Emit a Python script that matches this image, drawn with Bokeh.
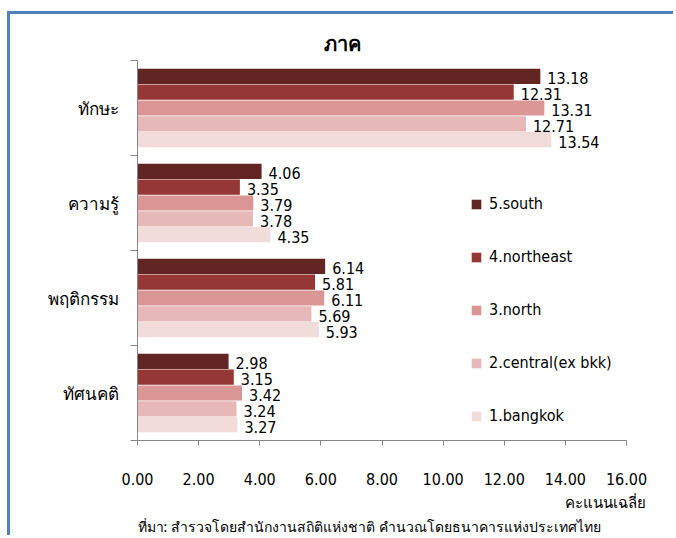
from bokeh.plotting import figure
from bokeh.models import (ColumnDataSource, Range1d, LinearAxis, FixedTicker,
                          NumeralTickFormatter, Legend, LegendItem, Title)
from bokeh.transform import dodge
from bokeh.core.properties import value
from bokeh.embed import file_html
from bokeh.resources import INLINE

# Topics, listed top to bottom as shown
topics = ["ทักษะ", "ความรู้", "พฤติกรรม", "ทัศนคติ"]
# Regions, listed in legend order
regions = ["5.south", "4.northeast", "3.north", "2.central(ex bkk)", "1.bangkok"]
south = [13.18, 4.06, 6.14, 2.98]
northeast = [12.31, 3.35, 5.81, 3.15]
north = [13.31, 3.79, 6.11, 3.42]
central = [12.71, 3.78, 5.69, 3.24]
bangkok = [13.54, 4.35, 5.93, 3.27]
x_ticks = [0, 2, 4, 6, 8, 10, 12, 14, 16]

title_text = "ภาค"
x_title = "คะแนนเฉลี่ย"
source_note = "ที่มา: สำรวจโดยสำนักงานสถิติแห่งชาติ คำนวณโดยธนาคารแห่งประเทศไทย"

colors = ["#632523", "#953735", "#d99694", "#e6b9b8", "#f2dcdb"]
NUM_FONT = "DejaVu Sans Condensed"
THAI_FONT = "Noto Sans"
AXIS_GREY = "#868686"
FRAME_BLUE = "#4f81bd"

n = len(topics)
# slot centre of each topic on the vertical scale, first topic at the top
slots = [n - k - 0.5 for k in range(n)]

series = [south, northeast, north, central, bangkok]
data = {"slot": slots}
for i, vals in enumerate(series):
    data[f"v{i}"] = vals
    data[f"t{i}"] = [f"{v:.2f}" for v in vals]
source = ColumnDataSource(data)

# the chart sits inside a blue frame open on the right and bottom
MX, MY, BW = 7, 11, 3
p = figure(width=676 - MX - BW, height=538 - MY - BW,
           y_range=Range1d(0, n),
           x_range=Range1d(x_ticks[0], x_ticks[-1]),
           output_backend="svg", toolbar_location=None,
           min_border_left=137 - MX - BW, min_border_right=50,
           min_border_top=60 - MY - BW, min_border_bottom=98)
p.outline_line_color = None
p.xgrid.visible = False
p.ygrid.visible = False
p.background_fill_color = "white"
p.border_fill_color = "white"
p.styles = {
    "margin-left": f"{MX}px",
    "margin-top": f"{MY}px",
    "border-left": f"{BW}px solid {FRAME_BLUE}",
    "border-top": f"{BW}px solid {FRAME_BLUE}",
}

step = 0.167
renderers = []
for i, col in enumerate(colors):
    offset = (2 - i) * step
    r = p.hbar(y=dodge("slot", offset), left=0, right=f"v{i}",
               height=step * 0.96, source=source, fill_color=col, line_color=None)
    renderers.append(r)
    p.text(x=f"v{i}", y=dodge("slot", offset), text=f"t{i}",
           source=source, x_offset=7, y_offset=2, text_baseline="middle", text_align="left",
           text_font=value(NUM_FONT), text_font_size="16px", text_color="black")

# x axis
xa = p.xaxis[0]
xa.ticker = FixedTicker(ticks=x_ticks)
xa.formatter = NumeralTickFormatter(format="0.00")
xa.major_tick_in = 0
xa.major_tick_out = 5
xa.minor_tick_line_color = None
xa.axis_line_color = AXIS_GREY
xa.major_tick_line_color = AXIS_GREY
xa.major_label_standoff = 27
xa.major_label_text_font = NUM_FONT
xa.major_label_text_font_size = "16px"
xa.major_label_text_color = "black"

# boundary axis: line and ticks between topics, no labels
bounds = list(range(n + 1))
ba = p.yaxis[0]
ba.ticker = FixedTicker(ticks=bounds)
ba.major_label_overrides = {b: "" for b in bounds}
ba.major_label_standoff = 0
ba.major_tick_in = 0
ba.major_tick_out = 7
ba.minor_tick_line_color = None
ba.axis_line_color = AXIS_GREY
ba.major_tick_line_color = AXIS_GREY

# topic axis: labels only, at slot centres
ta = LinearAxis(ticker=FixedTicker(ticks=slots),
                major_label_overrides={s: t for s, t in zip(slots, topics)},
                major_tick_line_color=None, minor_tick_line_color=None, axis_line_color=None,
                major_label_standoff=6, major_label_text_font=THAI_FONT,
                major_label_text_font_size="17px", major_label_text_color="black")
p.add_layout(ta, "left")

legend = Legend(items=[LegendItem(label=name, renderers=[r]) for name, r in zip(regions, renderers)],
                location=(333, 15), orientation="vertical",
                glyph_width=12, glyph_height=12, label_height=12, label_standoff=7,
                spacing=34, padding=0, margin=0,
                border_line_color=None, background_fill_alpha=0,
                label_text_font=NUM_FONT, label_text_font_size="16px", label_text_color="black")
p.add_layout(legend)

# chart title above the frame
p.title = Title(text=title_text, align="left", offset=186, standoff=8,
                vertical_align="bottom", text_font=THAI_FONT, text_font_size="20px",
                text_font_style="bold", text_color="black")
# value-axis title, right-aligned under the tick labels
p.add_layout(Title(text=x_title, align="right", offset=-19, standoff=4,
                   text_font=THAI_FONT, text_font_size="15px", text_font_style="normal",
                   text_color="black"), "below")
# source note
p.add_layout(Title(text=source_note, align="left", offset=0, standoff=2,
                   text_font=THAI_FONT, text_font_size="14px", text_font_style="normal",
                   text_color="black"), "below")

open("out.html", "w").write(file_html(p, INLINE))
